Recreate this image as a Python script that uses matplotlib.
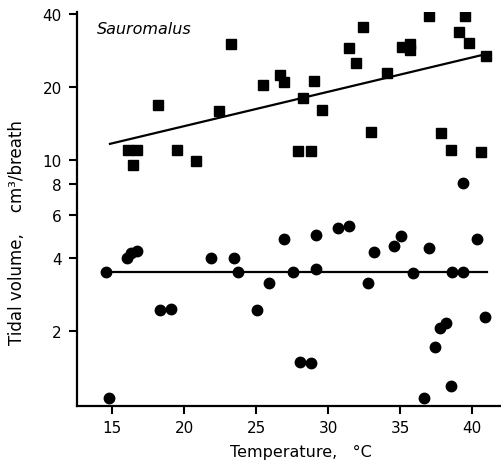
import matplotlib
matplotlib.use("Agg")
import matplotlib.pyplot as plt
from matplotlib.ticker import FixedLocator, FixedFormatter, NullLocator

# Squares (upper series)
sq_temp = [23.26, 18.2, 22.45, 16.09, 16.71, 16.48, 19.5, 20.85,
           25.46, 26.67, 26.97, 29.05, 28.29, 29.6, 27.94, 28.8,
           32.45, 31.43, 31.94, 34.07, 32.96, 35.16, 35.69, 35.69,
           36.97, 39.5, 39.1, 39.77, 40.97, 37.82, 38.52, 40.63]
sq_vol = [30.0, 16.9, 16.0, 11.0, 11.0, 9.6, 11.0, 9.95,
          20.4, 22.3, 21.0, 21.2, 18.0, 16.1, 10.9, 10.95,
          35.3, 28.9, 25.0, 22.8, 13.05, 29.2, 30.0, 28.5,
          39.2, 39.2, 33.5, 30.2, 26.9, 12.96, 11.0, 10.87]

# Circles (lower series)
ci_temp = [14.58, 14.77, 16.02, 16.3, 16.71, 18.33, 19.07, 21.875, 23.49, 23.73,
           25.05, 25.93, 26.97, 27.55, 29.15, 29.17, 28.06, 28.8, 30.67, 31.46,
           32.75, 33.2, 34.58, 35.07, 35.88, 36.69, 37.03, 37.43, 37.78, 38.2,
           38.52, 38.63, 39.33, 40.3, 40.9, 39.35]
ci_vol = [3.48, 1.06, 3.97, 4.18, 4.27, 2.45, 2.46, 3.97, 3.97, 3.5,
          2.45, 3.14, 4.77, 3.5, 4.95, 3.59, 1.50, 1.48, 5.27, 5.37,
          3.14, 4.23, 4.45, 4.89, 3.46, 1.06, 4.38, 1.72, 2.06, 2.15,
          1.19, 3.48, 3.48, 4.77, 2.28, 8.07]

# Fitted lines
sq_fit_temp = [14.86, 40.97]
sq_fit_vol = [11.7, 27.3]
ci_fit_temp = [14.6, 41.0]
ci_fit_vol = [3.5, 3.5]

x_ticks = [15, 20, 25, 30, 35, 40]
y_ticks = [2, 4, 6, 8, 10, 20, 40]
y_tick_labels = ["2", "4", "6", "8", "10", "20", "40"]

W, H = 501, 464
fig = plt.figure(figsize=(W / 100, H / 100), dpi=100)
ax = fig.add_axes([77 / W, 57 / H, (W - 77) / W, (407 - 13) / H])

ax.plot(sq_fit_temp, sq_fit_vol, color="black", lw=1.6, zorder=2)
ax.plot(ci_fit_temp, ci_fit_vol, color="black", lw=1.6, zorder=2)
ax.plot(sq_temp, sq_vol, linestyle="none", marker="s", ms=7.8, color="black", zorder=3)
ax.plot(ci_temp, ci_vol, linestyle="none", marker="o", ms=7.5, color="black", zorder=3)

ax.set_yscale("log")
ax.set_xlim(12.57, 42.0)
ax.set_ylim(0.986, 40.6)

ax.xaxis.set_major_locator(FixedLocator(x_ticks))
ax.xaxis.set_minor_locator(NullLocator())
ax.yaxis.set_major_locator(FixedLocator(y_ticks))
ax.yaxis.set_major_formatter(FixedFormatter(y_tick_labels))
ax.yaxis.set_minor_locator(NullLocator())

for s in ["top", "right"]:
    ax.spines[s].set_visible(False)
for s in ["left", "bottom"]:
    ax.spines[s].set_linewidth(1.6)

ax.tick_params(direction="out", length=6, width=1.5, labelsize=11)
ax.tick_params(axis="y", pad=5)
ax.tick_params(axis="x", pad=4)

ax.set_xlabel("Temperature,   °C", fontsize=11.5)
ax.xaxis.set_label_coords((301 - 77) / (W - 77), -(445 - 407) / 394)
ax.set_ylabel("Tidal volume,    cm³/breath", fontsize=12)
ax.yaxis.set_label_coords((26 - 77) / (W - 77), (407 - 233) / 394)

ax.text(97 / W, 1 - 29 / H, "Sauromalus", transform=fig.transFigure,
        fontsize=11.5, style="italic", va="center", ha="left")

fig.savefig("out.png", dpi=100)
